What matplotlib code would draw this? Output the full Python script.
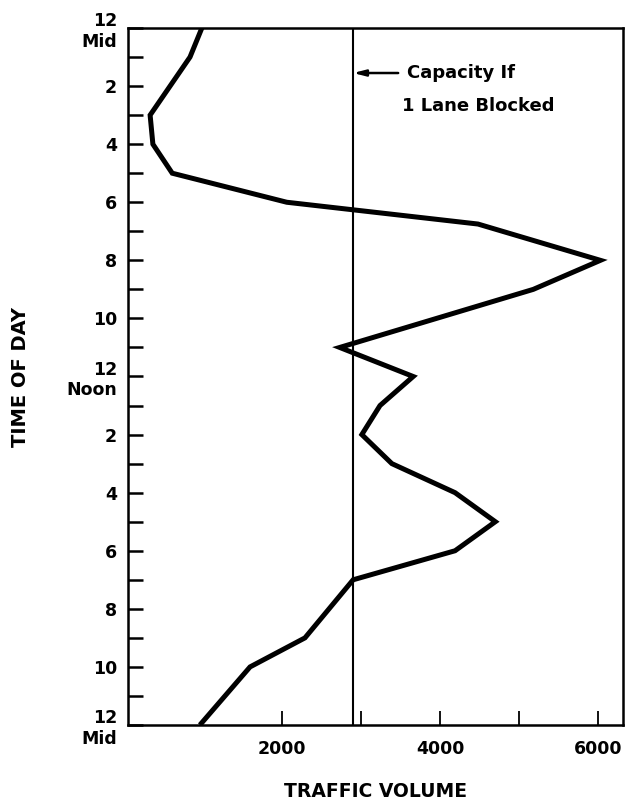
import matplotlib
matplotlib.use("Agg")
import matplotlib.pyplot as plt

# ---- data ----
hours = [0, 1, 3, 4, 5, 6, 6.75, 8, 9, 11, 12, 13, 14, 15, 16, 17, 18, 19, 21, 22, 24]
volume = [985, 835, 330, 365, 610, 2060, 4480, 6030, 5180, 2730, 3660, 3240, 3010,
          3390, 4190, 4700, 4190, 2900, 2290, 1595, 960]
capacity_one_lane = 2900

y_tick_hours = list(range(0, 25))
y_tick_labels = {0: "12\nMid", 2: "2", 4: "4", 6: "6", 8: "8", 10: "10", 12: "12\nNoon",
                 14: "2", 16: "4", 18: "6", 20: "8", 22: "10", 24: "12\nMid"}
x_ticks = [2000, 3000, 4000, 5000, 6000]
x_tick_labels = {2000: "2000", 4000: "4000", 6000: "6000"}

plt.rcParams['font.family'] = ['DejaVu Sans']
plt.rcParams['font.weight'] = 'bold'

fig = plt.figure(figsize=(6.31, 8.05), dpi=100)
ax = fig.add_axes([128 / 631, 1 - 725 / 805, 495 / 631, 697 / 805])

ax.plot(volume, hours, color='black', lw=3.6, solid_joinstyle='miter', solid_capstyle='butt')
ax.axvline(capacity_one_lane, color='black', lw=1.5)

ax.set_xlim(50, 6316)
ax.set_ylim(24, 0)

ax.set_yticks(y_tick_hours)
ax.set_yticklabels([y_tick_labels.get(h, "") for h in y_tick_hours],
                   fontsize=12.5, fontweight='bold', multialignment='right')
ax.set_xticks(x_ticks)
ax.set_xticklabels([x_tick_labels.get(v, "") for v in x_ticks], fontsize=12.5, fontweight='bold')

ax.tick_params(axis='y', direction='in', length=11, width=1.8, pad=8)
ax.tick_params(axis='x', direction='in', length=10, width=1.3, pad=11)
for s in ax.spines.values():
    s.set_linewidth(1.8)

ax.set_xlabel("TRAFFIC VOLUME", fontsize=13.5, fontweight='bold', labelpad=17)
ax.set_ylabel("TIME OF DAY", fontsize=14, fontweight='bold', labelpad=26)

ax.annotate("", xy=(capacity_one_lane, 1.55), xytext=(3470, 1.55),
            arrowprops=dict(arrowstyle='-|>,head_length=0.7,head_width=0.18',
                            color='black', lw=1.8, shrinkA=0, shrinkB=0))
ax.text(3580, 1.55, "Capacity If", fontsize=13, fontweight='bold', va='center', ha='left')
ax.text(3520, 2.7, "1 Lane Blocked", fontsize=13, fontweight='bold', va='center', ha='left')

fig.savefig("out.png", dpi=100)
